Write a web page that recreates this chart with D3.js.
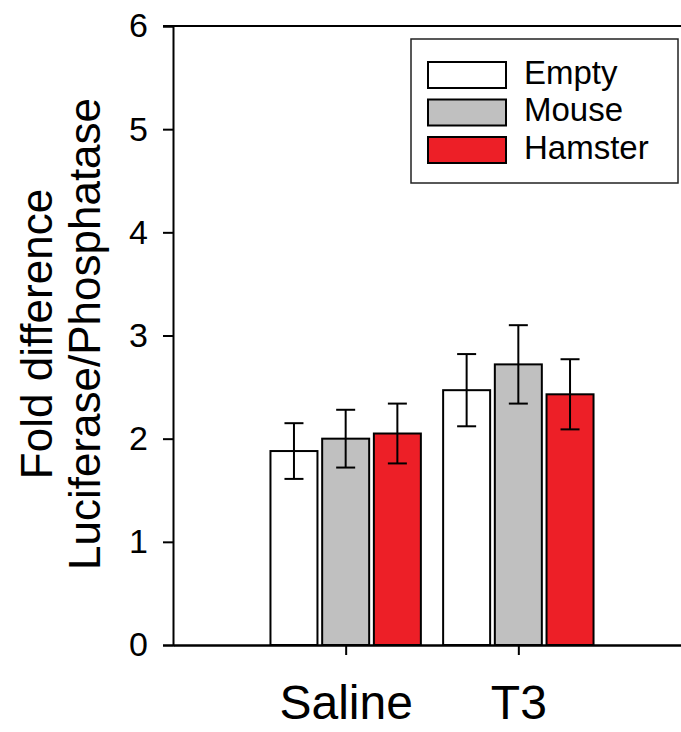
<!DOCTYPE html>
<html>
<head>
<meta charset="utf-8">
<script src="https://cdn.jsdelivr.net/npm/d3@7"></script>
<style>
  html, body { margin: 0; padding: 0; background: #fff; }
  svg { display: block; font-family: "Liberation Sans", Arial, sans-serif; }
</style>
</head>
<body>
<svg id="chart" width="681" height="732"></svg>
<script>
// Treatments on the x axis and the constructs drawn within each group
const treatments = ["Saline", "T3"];
const constructs = ["Empty", "Mouse", "Hamster"];
const colors = ["#ffffff", "#c0c0c0", "#ed1f27"];

// Mean fold difference per construct, one array per treatment order
const emptyMean   = [1.88, 2.47];
const mouseMean   = [2.00, 2.72];
const hamsterMean = [2.05, 2.43];

// Error bar half-widths (same order)
const emptyErr   = [0.27, 0.35];
const mouseErr   = [0.28, 0.38];
const hamsterErr = [0.29, 0.34];

const yTicks = [0, 1, 2, 3, 4, 5, 6];

const means = [emptyMean, mouseMean, hamsterMean];
const errs = [emptyErr, mouseErr, hamsterErr];

const svg = d3.select("#chart");

const x = d3.scaleLinear().domain([0, 3]).range([173, 691]);
const y = d3.scaleLinear().domain([0, 6]).range([645, 26]);
const inner = d3.scaleBand().domain(constructs).range([-75.2, 75.2]).paddingInner(0.091).paddingOuter(0);

// Flatten into bar records
const bars = [];
treatments.forEach((t, ti) => {
  constructs.forEach((c, ci) => {
    bars.push({ t, ti, c, ci, v: means[ci][ti], e: errs[ci][ti] });
  });
});

// Top frame line
svg.append("line")
  .attr("x1", 163).attr("x2", 691)
  .attr("y1", y(6)).attr("y2", y(6))
  .attr("stroke", "#000").attr("stroke-width", 2);

// Bars
svg.append("g").selectAll("rect").data(bars).join("rect")
  .attr("x", d => x(d.ti + 1) + inner(d.c))
  .attr("width", inner.bandwidth())
  .attr("y", d => y(d.v))
  .attr("height", d => y(0) - y(d.v))
  .attr("fill", d => colors[d.ci])
  .attr("stroke", "#000")
  .attr("stroke-width", 2);

// Error bars
const eb = svg.append("g").attr("stroke", "#000").attr("stroke-width", 2);
bars.forEach(d => {
  const cx = x(d.ti + 1) + inner(d.c) + inner.bandwidth() / 2;
  eb.append("line").attr("x1", cx).attr("x2", cx)
    .attr("y1", y(d.v + d.e)).attr("y2", y(d.v - d.e));
  [d.v + d.e, d.v - d.e].forEach(v => {
    eb.append("line").attr("x1", cx - 9.5).attr("x2", cx + 9.5)
      .attr("y1", y(v)).attr("y2", y(v));
  });
});

// Y axis
const yAxis = svg.append("g")
  .attr("transform", `translate(${x(0)},0)`)
  .call(d3.axisLeft(y).tickValues(yTicks).tickSize(10).tickPadding(15).tickFormat(d3.format("d")));
yAxis.select(".domain").attr("stroke-width", 2);
yAxis.selectAll(".tick line").attr("stroke-width", 2);
yAxis.selectAll("text").attr("font-size", 34).attr("fill", "#000")
  .attr("font-family", "Liberation Sans, Arial, sans-serif");

// X axis
const xAxis = svg.append("g")
  .attr("transform", `translate(0,${y(0)})`)
  .call(d3.axisBottom(x).tickValues([1, 2]).tickSize(10).tickSizeOuter(0).tickPadding(30)
    .tickFormat((d, i) => treatments[i]));
xAxis.select(".domain").attr("stroke-width", 2.5);
xAxis.selectAll(".tick line").attr("stroke-width", 2);
xAxis.selectAll("text").attr("font-size", 48).attr("fill", "#000")
  .attr("font-family", "Liberation Sans, Arial, sans-serif");

// Y axis title
const title = svg.append("text")
  .attr("transform", "translate(0,334) rotate(-90)")
  .attr("text-anchor", "middle")
  .attr("font-size", 44)
  .attr("fill", "#000");
title.append("tspan").attr("x", 0).attr("y", 52).text("Fold difference");
title.append("tspan").attr("x", 0).attr("y", 100).text("Luciferase/Phosphatase");

// Legend
const lg = svg.append("g");
lg.append("rect")
  .attr("x", 411).attr("y", 39).attr("width", 267).attr("height", 144)
  .attr("fill", "#fff").attr("stroke", "#222").attr("stroke-width", 1.5);
constructs.forEach((c, i) => {
  const yy = 62 + i * 37.5;
  lg.append("rect").attr("x", 428).attr("y", yy).attr("width", 78).attr("height", 26)
    .attr("fill", colors[i]).attr("stroke", "#000").attr("stroke-width", 2);
  lg.append("text").attr("x", 524).attr("y", yy + 13 + 8.5)
    .attr("font-size", 33).attr("fill", "#000").text(c);
});
</script>
</body>
</html>
